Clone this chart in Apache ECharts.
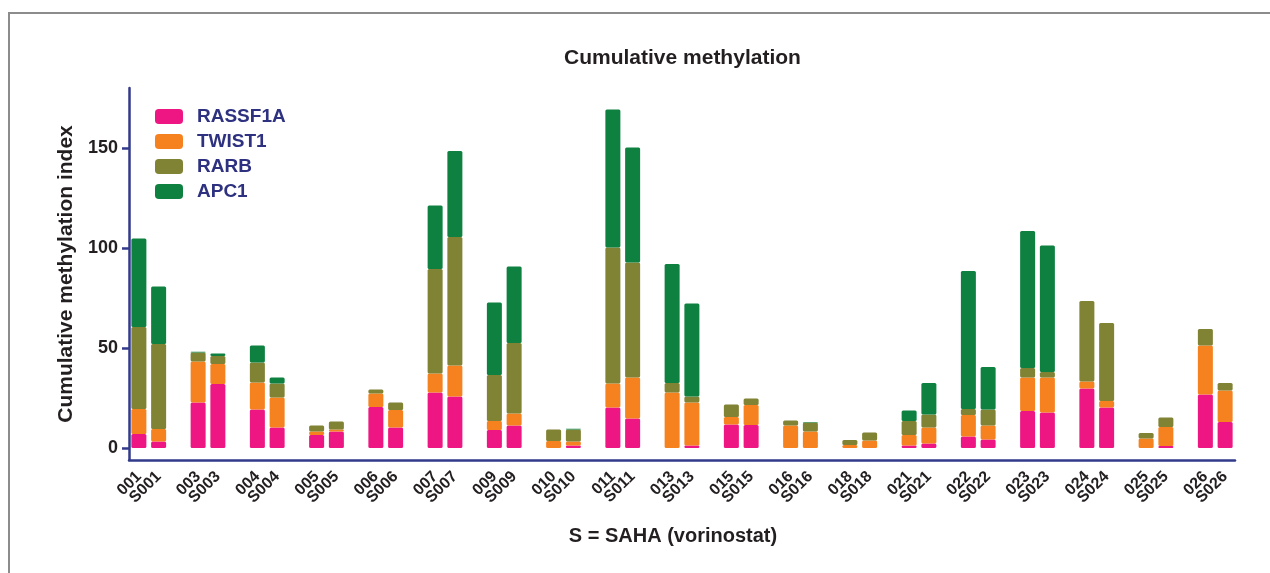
<!DOCTYPE html>
<html>
<head>
<meta charset="utf-8">
<script src="https://cdn.jsdelivr.net/npm/echarts@6/dist/echarts.min.js"></script>
<style>
  html, body { margin: 0; padding: 0; background: #fff; }
  #chart { width: 1270px; height: 573px; }
</style>
</head>
<body>
<div id="chart"></div>
<script>
// patient ids, each has an untreated bar and a SAHA bar (S...)
const groups = ['001', '003', '004', '005', '006', '007', '009', '010', '011', '013',
                '015', '016', '018', '021', '022', '023', '024', '025', '026'];

// values per bar, order: 001, S001, 003, S003, ...
const rassf1a = [7, 3.2, 22.7, 32, 19.3, 10.2, 6.5, 8.2, 20.5, 10.2,
                 27.7, 25.7, 9, 11.2, 0, 1.2, 20.3, 14.7, 0, 1.2,
                 11.8, 11.5, 0, 0, 0, 0, 1.2, 2.3, 5.8, 4.2,
                 18.5, 17.7, 29.7, 20.2, 0, 1, 26.7, 13];
const twist1 = [12.5, 6.3, 20.5, 10, 13.4, 15, 1.7, 1, 6.8, 8.8,
                9.6, 15.6, 4.5, 6.1, 3.5, 2, 12, 20.6, 27.7, 21.5,
                3.7, 10, 11.3, 8.2, 1.5, 3.8, 5.3, 7.9, 10.7, 7,
                16.7, 17.5, 3.5, 3.3, 4.8, 9.5, 24.6, 15.7];
const rarb = [41, 42.5, 4.5, 4, 10, 7, 3.1, 4, 2, 3.8,
              52.2, 64.2, 23, 35.2, 5.8, 6.1, 67.9, 57.4, 4.8, 3,
              6.3, 3.3, 2.4, 4.6, 2.5, 4, 7, 6.6, 3, 8.1,
              4.8, 2.8, 40.3, 39, 2.7, 4.8, 8.2, 3.8];
const apc1 = [44.3, 28.7, 0.4, 1.3, 8.6, 3.1, 0, 0, 0, 0,
              31.7, 43, 36.2, 38.2, 0, 0.3, 69.1, 57.6, 59.5, 46.6,
              0, 0, 0, 0.2, 0, 0, 5.2, 15.7, 69, 21.2,
              68.5, 63.2, 0, 0, 0, 0, 0, 0];

const yTicks = [0, 50, 100, 150];

// build the category list with an empty slot between patients
const categories = [];
groups.forEach((g, i) => {
    categories.push(g, 'S' + g);
    if (i < groups.length - 1) categories.push('');
});
function withGaps(vals) {
    const out = [];
    groups.forEach((g, i) => {
        out.push(vals[2 * i] || null, vals[2 * i + 1] || null);
        if (i < groups.length - 1) out.push(null);
    });
    return out;
}

const navy = '#323a8a';
const font = 'Liberation Sans, Arial, Helvetica, sans-serif';

const names = ['RASSF1A', 'TWIST1', 'RARB', 'APC1'];
const colors = ['#ee1683', '#f6821f', '#808234', '#0e8140'];
const values = [rassf1a, twist1, rarb, apc1];

const chart = echarts.init(document.getElementById('chart'));
chart.setOption({
    animation: false,
    color: colors,
    title: {
        text: 'Cumulative methylation',
        left: 559,
        top: 43,
        textStyle: { fontFamily: font, fontSize: 21, fontWeight: 'bold', color: '#231f20' }
    },
    legend: {
        orient: 'vertical',
        left: 150,
        top: 102,
        itemWidth: 28,
        itemHeight: 15,
        itemGap: 6,
        icon: 'roundRect',
        data: names,
        textStyle: { fontFamily: font, fontSize: 19, lineHeight: 15, fontWeight: 'bold', color: '#2e3180', padding: [0, 0, 0, 9] }
    },
    grid: { left: 129, right: 35, top: 88, bottom: 113 },
    xAxis: {
        type: 'category',
        data: categories,
        name: 'S = SAHA (vorinostat)',
        nameLocation: 'middle',
        nameGap: 66,
        nameTextStyle: { fontFamily: font, fontSize: 20, fontWeight: 'bold', color: '#231f20', padding: [0, 18, 0, 0] },
        axisLine: { onZero: false, lineStyle: { color: navy, width: 2.5 } },
        axisTick: { alignWithLabel: true, interval: 0, length: 7, lineStyle: { color: navy, width: 2.5 } },
        axisLabel: { interval: 0, rotate: 45, margin: 14, fontFamily: font, fontSize: 16, fontWeight: 'bold', color: '#231f20' }
    },
    yAxis: {
        type: 'value',
        min: -6,
        max: 180,
        name: 'Cumulative methylation index',
        nameLocation: 'middle',
        nameGap: 52,
        nameTextStyle: { fontFamily: font, fontSize: 21, fontWeight: 'bold', color: '#231f20' },
        splitLine: { show: false },
        axisLine: { show: true, lineStyle: { color: navy, width: 2.5 } },
        axisTick: { show: true, length: 7, customValues: yTicks, lineStyle: { color: navy, width: 2.5 } },
        axisLabel: { customValues: yTicks, margin: 11, fontFamily: font, fontSize: 18, fontWeight: 'bold', color: '#231f20' }
    },
    graphic: [{
        type: 'polyline',
        shape: { points: [[9, 573], [9, 13], [1270, 13]] },
        style: { stroke: '#8c8c8c', lineWidth: 2, fill: null }
    }],
    series: names.map((n, k) => ({
        name: n,
        type: 'bar',
        stack: 'total',
        barWidth: 15,
        data: withGaps(values[k]),
        itemStyle: { borderRadius: 1.5 }
    }))
});
</script>
</body>
</html>
